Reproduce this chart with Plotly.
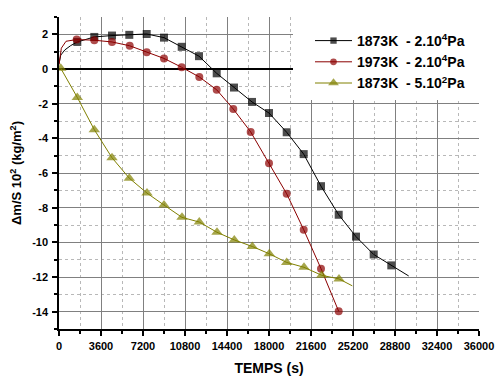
import plotly.graph_objects as go

# Series 1: 1873K - 2.10^4 Pa
t1 = [0, 150, 500, 1000, 1569, 3026, 4543, 6026, 7517, 9000, 10517, 12000, 13517,
      15000, 16543, 18000, 19517, 20974, 22457, 23974, 25457, 26974, 28483, 29974]
v1 = [0.3, 0.8, 1.1, 1.35, 1.56, 1.85, 1.93, 1.97, 2.02, 1.81, 1.28, 0.74, -0.25,
      -1.07, -1.9, -2.54, -3.65, -4.91, -6.76, -8.41, -9.67, -10.7, -11.33, -11.94]
m1 = [0, 0, 0, 0] + [1] * 19 + [0]

# Series 2: 1973K - 2.10^4 Pa
t2 = [0, 200, 600, 1517, 3026, 4543, 6060, 7517, 9000, 10517, 12026, 13517, 14940,
      16430, 18000, 19517, 20974, 22457, 23974]
v2 = [0.25, 1.2, 1.6, 1.70, 1.66, 1.56, 1.34, 0.96, 0.61, 0.10, -0.46, -1.20, -2.31,
      -3.63, -5.44, -7.2, -9.27, -11.52, -13.98]
m2 = [0, 0, 0] + [1] * 16

# Series 3: 1873K - 5.10^2 Pa
t3 = [150, 1569, 3026, 4543, 6026, 7543, 9000, 10543, 12026, 13543, 15026, 16569,
      18026, 19517, 21000, 22517, 24000, 25140]
v3 = [0.04, -1.64, -3.50, -5.12, -6.30, -7.16, -7.85, -8.56, -8.83, -9.42, -9.86,
      -10.24, -10.66, -11.16, -11.44, -11.9, -12.11, -12.51]
m3 = [1] * 17 + [0]

names = ["1873K  - 2.10<sup>4</sup>Pa", "1973K  - 2.10<sup>4</sup>Pa", "1873K  - 5.10<sup>2</sup>Pa"]
x_ticks = [0, 3600, 7200, 10800, 14400, 18000, 21600, 25200, 28800, 32400, 36000]
y_ticks = [-14, -12, -10, -8, -6, -4, -2, 0, 2]

FONT = "Liberation Sans, Arial, sans-serif"

fig = go.Figure()
specs = [
    (t1, v1, m1, "#000000", "square", 8),
    (t2, v2, m2, "#8b0000", "circle", 8),
    (t3, v3, m3, "#808000", "triangle-up", 10),
]
for (t, v, m, col, sym, sz), nm in zip(specs, names):
    fig.add_trace(go.Scatter(
        x=t, y=v, name=nm, mode="lines+markers",
        line=dict(color=col, width=1),
        marker=dict(color=col, symbol=sym, size=[sz * k for k in m],
                    line=dict(width=0)),
    ))

axis_common = dict(
    showline=True, linecolor="black", linewidth=1.5,
    ticks="outside", ticklen=5, tickwidth=1.5, tickcolor="black",
    showgrid=True, gridcolor="#808080", gridwidth=1,
    tickfont=dict(family=FONT, size=11, color="black", weight="bold"),
    mirror=False, automargin=False,
)

fig.update_xaxes(
    range=[0, 36000], tickvals=x_ticks, ticktext=[str(v) for v in x_ticks],
    zeroline=False,
    minor=dict(dtick=1800, ticklen=3, tickcolor="black", showgrid=True,
               gridcolor="#b8b8b8", griddash="dot", gridwidth=1),
    title=dict(text="TEMPS (s)", font=dict(family=FONT, size=14, color="black", weight="bold"),
               standoff=12),
    ticklabelstandoff=1,
    **axis_common,
)
fig.update_yaxes(
    range=[-15, 3], tickvals=y_ticks, ticktext=[str(v) for v in y_ticks],
    zeroline=True, zerolinecolor="black", zerolinewidth=1.5,
    minor=dict(dtick=1, ticklen=3, tickcolor="black", showgrid=True,
               gridcolor="#b8b8b8", griddash="dot", gridwidth=1),
    title=dict(text="Δm/S 10<sup>2</sup> (kg/m<sup>2</sup>)",
               font=dict(family=FONT, size=13, color="black", weight="bold"),
               standoff=11),
    ticklabelstandoff=2,
    **axis_common,
)

# white panel behind the legend (hides grid lines there, as in the original)
fig.add_shape(type="rect", xref="paper", yref="paper",
              x0=(293 - 59) / 420, x1=1.0, y0=1 - (100 - 17) / 312, y1=1.0,
              fillcolor="white", line=dict(width=0), layer="above")

# the page body adds an 8px offset, so the figure is 8px smaller and margins shifted
fig.update_layout(
    width=495, height=373,
    margin=dict(l=51, r=24, t=9, b=52),
    paper_bgcolor="white", plot_bgcolor="white",
    showlegend=True,
    legend=dict(
        x=(310 - 59) / 420, y=1 - 8 / 312, xanchor="left", yanchor="top",
        bgcolor="rgba(0,0,0,0)", borderwidth=0,
        font=dict(family=FONT, size=14, color="black", weight="bold"),
        itemwidth=37,
    ),
)

fig.write_html("out.html")
